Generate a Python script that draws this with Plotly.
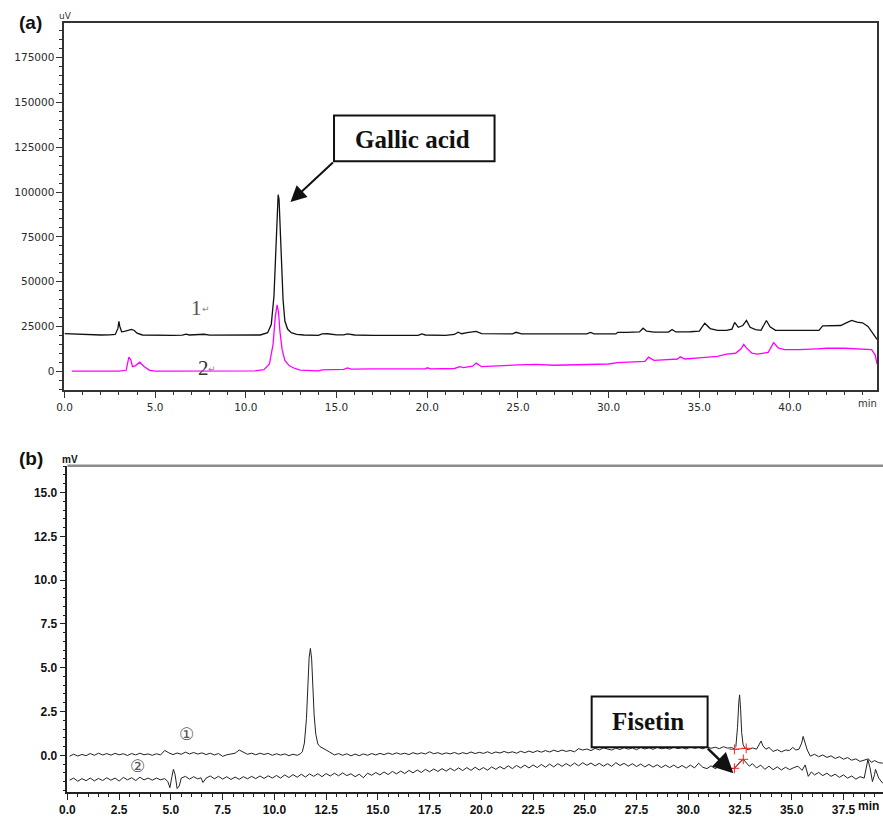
import plotly.graph_objects as go

W, H = 883, 817

# ---------------- Panel (a) data: HPLC, uV ----------------
a1_time = [0.0, 0.5, 1.0, 1.5, 2.0, 2.5, 2.8, 2.95, 3.0, 3.05,
           3.15, 3.3, 3.5, 3.7, 3.85, 4.0, 4.3, 5.0, 6.0, 6.5,
           6.7, 6.9, 7.5, 7.7, 8.0, 9.0, 10.0, 10.8, 11.2, 11.4,
           11.55, 11.65, 11.72, 11.78, 11.83, 11.88, 11.95, 12.05, 12.15, 12.3,
           12.5, 12.8, 13.2, 14.0, 14.2, 14.5, 15.0, 15.4, 15.6, 16.0,
           17.0, 18.0, 19.5, 19.7, 19.9, 21.0, 21.5, 21.7, 21.9, 22.2,
           22.5, 22.7, 23.0, 24.0, 24.7, 24.9, 25.2, 27.0, 28.8, 29.0,
           29.2, 30.4, 30.5, 31.0, 31.7, 31.9, 32.1, 32.5, 33.3, 33.5,
           33.7, 34.5, 35.0, 35.3, 35.6, 36.0, 36.5, 36.8, 36.95, 37.15,
           37.4, 37.6, 37.8, 38.1, 38.4, 38.7, 38.9, 39.2, 39.5, 40.0,
           41.0, 41.6, 41.8, 42.2, 42.5, 42.8, 43.1, 43.4, 43.7, 44.0,
           44.3, 44.6, 44.8]
a1_signal = [21000, 20800, 20300, 20200, 20200, 20300, 20500, 24000, 27800, 25000,
             22000, 22200, 22600, 23300, 22700, 21200, 20200, 20000, 20000, 20100,
             20700, 20200, 20200, 20600, 20100, 20000, 20000, 20200, 21500, 26000,
             42000, 70000, 92000, 98500, 96000, 85000, 62000, 40000, 28000, 23500,
             21500, 20600, 20200, 20000, 20800, 20900, 20300, 20300, 20800, 20200,
             20000, 20000, 20000, 20800, 20200, 20000, 20500, 21800, 20900, 21500,
             21900, 22200, 21000, 20800, 20800, 21700, 20800, 20800, 20800, 21600,
             20800, 20800, 21700, 21700, 21900, 24000, 22300, 21800, 21800, 23300,
             21900, 22000, 22300, 26800, 23800, 22800, 22800, 23500, 27200, 24500,
             25500, 28300, 24500, 23200, 22800, 28300, 24800, 22800, 22800, 22800,
             22800, 22800, 25300, 25300, 25500, 25500, 27000, 28300, 27400, 27000,
             25000, 21000, 17800]

a2_time = [0.4, 1.5, 3.0, 3.4, 3.55, 3.65, 3.75, 3.9, 4.15, 4.4,
           4.7, 5.0, 7.0, 9.0, 10.5, 11.0, 11.3, 11.5, 11.62, 11.72,
           11.8, 11.88, 12.0, 12.15, 12.4, 12.7, 13.0, 14.0, 14.2, 15.4,
           15.6, 15.8, 16.8, 17.0, 19.9, 20.0, 20.2, 21.0, 21.5, 21.8,
           22.0, 22.5, 22.7, 23.0, 23.5, 24.5, 25.0, 26.0, 27.0, 28.0,
           29.0, 30.0, 30.5, 31.5, 32.0, 32.2, 32.5, 33.0, 33.8, 33.95,
           34.2, 35.0, 36.0, 36.5, 37.0, 37.3, 37.45, 37.6, 37.9, 38.2,
           38.8, 39.1, 39.35, 39.7, 40.5, 41.5, 42.0, 43.0, 44.0, 44.5,
           44.7, 44.8]
a2_signal = [0, 0, 0, 500, 7800, 6500, 2500, 3000, 5000, 2500,
             500, 0, 0, 0, 200, 800, 4000, 15000, 30000, 37000,
             33000, 22000, 12000, 6000, 3000, 1500, 600, 200, 700, 1000,
             1800, 1200, 1500, 1300, 1300, 1900, 1300, 1200, 1500, 2500,
             2000, 2800, 4500, 2500, 2600, 3200, 3500, 3800, 3300, 3500,
             4000, 4000, 4800, 5200, 5500, 7800, 6000, 6300, 6800, 8000,
             6800, 7400, 8300, 9500, 10000, 12500, 15000, 13000, 10000, 9500,
             10500, 16000, 13000, 12000, 12000, 12500, 12800, 12800, 12500, 12000,
             9000, 4000]

a_xticks = [0, 5, 10, 15, 20, 25, 30, 35, 40]
a_yticks = [0, 25000, 50000, 75000, 100000, 125000, 150000, 175000]

# ---------------- Panel (b) data: mV ----------------
b1_time = [0.1, 0.3, 0.5, 0.7, 0.9,
           1.1, 1.3, 1.5, 1.7, 1.9,
           2.1, 2.3, 2.5, 2.7, 2.9,
           3.1, 3.3, 3.5, 3.7, 3.9,
           4.1, 4.3, 4.5, 4.7, 4.9,
           5.1, 5.3, 5.5, 5.7, 5.9,
           6.1, 6.3, 6.5, 6.7, 6.9,
           7.1, 7.3, 7.5, 7.7, 7.9,
           8.1, 8.3, 8.5, 8.7, 8.9,
           9.1, 9.3, 9.5, 9.7, 9.9,
           10.1, 10.3, 10.5, 10.7, 10.9,
           11.1, 11.25, 11.35, 11.45, 11.55, 11.62, 11.68, 11.74, 11.8, 11.86, 11.92, 12.0, 12.1,
           12.2, 12.35, 12.5, 12.65, 12.8, 12.9,
           13.1, 13.3, 13.5, 13.7, 13.9,
           14.1, 14.3, 14.5, 14.7, 14.9,
           15.1, 15.3, 15.5, 15.7, 15.9,
           16.1, 16.3, 16.5, 16.7, 16.9,
           17.1, 17.3, 17.5, 17.7, 17.9,
           18.1, 18.3, 18.5, 18.7, 18.9,
           19.1, 19.3, 19.5, 19.7, 19.9,
           20.1, 20.3, 20.5, 20.7, 20.9,
           21.1, 21.3, 21.5, 21.7, 21.9,
           22.1, 22.3, 22.5, 22.7, 22.9,
           23.1, 23.3, 23.5, 23.7, 23.9,
           24.1, 24.3, 24.5, 24.7, 24.9,
           25.1, 25.3, 25.5, 25.7, 25.9,
           26.1, 26.3, 26.5, 26.7, 26.9,
           27.1, 27.3, 27.5, 27.7, 27.9,
           28.1, 28.3, 28.5, 28.7, 28.9,
           29.1, 29.3, 29.5, 29.7, 29.9,
           30.1, 30.3, 30.5, 30.7, 30.9,
           31.1, 31.3, 31.5, 31.7, 31.9,
           32.1, 32.2, 32.3, 32.38, 32.44, 32.48, 32.53, 32.58, 32.65, 32.75, 32.9,
           33.1, 33.3, 33.45, 33.52, 33.6, 33.75, 33.9,
           34.1, 34.3, 34.5, 34.7, 34.9,
           35.05, 35.2, 35.35, 35.48, 35.55, 35.62, 35.75, 35.9,
           36.1, 36.3, 36.5, 36.7, 36.9,
           37.1, 37.3, 37.5, 37.7, 37.9,
           38.1, 38.3, 38.5, 38.7, 38.85,
           39.0, 39.2, 39.4]
b1_signal = [-0.05, 0.06, -0.04, 0.05, -0.02,
             0.1, 0.0, 0.12, 0.02, 0.1,
             0.01, 0.11, 0.03, 0.09, -0.01,
             0.1, 0.02, 0.12, 0.03, 0.08,
             0.0, 0.09, 0.02, 0.28, 0.14,
             0.04, 0.13, 0.06, 0.18, 0.08,
             0.16, 0.07, 0.14, 0.04, 0.12,
             0.02, 0.1, -0.06, 0.03, 0.08,
             0.12, 0.3, 0.18, 0.06, 0.12,
             0.03, 0.12, 0.05, 0.11, 0.0,
             0.09, 0.01, 0.08, -0.02, 0.06,
             0.0, 0.08, 0.2, 0.7, 2.1, 4.0, 5.6, 6.1, 5.5, 3.9, 2.3, 1.2, 0.65,
             0.5, 0.42, 0.3, 0.2, 0.12, 0.02,
             0.1, 0.0, 0.09, -0.03, 0.07,
             -0.02, 0.08, 0.0, 0.1, 0.02,
             0.11, 0.04, 0.13, 0.05, 0.14,
             0.06, 0.12, 0.04, 0.15, 0.07,
             0.14, 0.08, 0.2, 0.09, 0.15,
             0.06, 0.14, 0.08, 0.16, 0.07,
             0.15, 0.09, 0.19, 0.1, 0.17,
             0.11, 0.2, 0.1, 0.19, 0.13,
             0.22, 0.14, 0.2, 0.12, 0.23,
             0.15, 0.24, 0.16, 0.26, 0.18,
             0.27, 0.19, 0.29, 0.21, 0.3,
             0.22, 0.28, 0.2, 0.38, 0.3,
             0.36, 0.27, 0.4, 0.31, 0.42,
             0.34, 0.3, 0.41, 0.33, 0.44,
             0.35, 0.42, 0.32, 0.45, 0.36,
             0.43, 0.34, 0.46, 0.37, 0.42,
             0.35, 0.47, 0.38, 0.44, 0.36,
             0.48, 0.4, 0.45, 0.37, 0.48,
             0.4, 0.46, 0.38, 0.49, 0.41,
             0.44, 0.38, 0.5, 1.6, 3.0, 3.45, 2.6, 1.3, 0.6, 0.4, 0.32,
             0.42, 0.35, 0.7, 0.82, 0.55, 0.35, 0.45,
             0.22, 0.32, 0.2, 0.3, 0.28,
             0.45, 0.3, 0.35, 0.7, 1.08, 0.8, 0.3, -0.05,
             0.06, -0.08, 0.02, -0.12, -0.03,
             -0.18, -0.08, -0.22, -0.13, -0.28,
             -0.2, -0.35, -0.26, -0.2, -0.4,
             -0.3, -0.42, -0.45]

b2_time = [0.1, 0.3, 0.5, 0.7, 0.9,
           1.1, 1.3, 1.5, 1.7, 1.9,
           2.1, 2.3, 2.5, 2.7, 2.9,
           3.1, 3.3, 3.5, 3.7, 3.9,
           4.1, 4.3, 4.5, 4.7, 4.85, 4.95, 5.05, 5.12, 5.2, 5.3, 5.4, 5.5, 5.7, 5.9,
           6.1, 6.3, 6.45, 6.55, 6.7, 6.9,
           7.1, 7.3, 7.5, 7.7, 7.9,
           8.1, 8.3, 8.5, 8.7, 8.9,
           9.1, 9.3, 9.5, 9.7, 9.9,
           10.1, 10.3, 10.5, 10.7, 10.9,
           11.1, 11.3, 11.5, 11.7, 11.9,
           12.1, 12.3, 12.5, 12.7, 12.9,
           13.1, 13.3, 13.5, 13.7, 13.9,
           14.1, 14.3, 14.5, 14.7, 14.9,
           15.1, 15.3, 15.5, 15.7, 15.9,
           16.1, 16.3, 16.5, 16.7, 16.9,
           17.1, 17.3, 17.5, 17.7, 17.9,
           18.1, 18.3, 18.5, 18.7, 18.9,
           19.1, 19.3, 19.5, 19.7, 19.9,
           20.1, 20.3, 20.5, 20.7, 20.9,
           21.1, 21.3, 21.5, 21.7, 21.9,
           22.1, 22.3, 22.5, 22.7, 22.9,
           23.1, 23.3, 23.5, 23.7, 23.9,
           24.1, 24.3, 24.5, 24.7, 24.9,
           25.1, 25.3, 25.5, 25.7, 25.9,
           26.1, 26.3, 26.5, 26.7, 26.9,
           27.1, 27.3, 27.5, 27.7, 27.9,
           28.1, 28.3, 28.5, 28.7, 28.9,
           29.1, 29.3, 29.5, 29.7, 29.9,
           30.1, 30.3, 30.5, 30.7, 30.9,
           31.1, 31.3, 31.5, 31.7, 31.9,
           32.1, 32.23, 32.4, 32.55, 32.66, 32.8, 32.95,
           33.1, 33.3, 33.5, 33.7, 33.9,
           34.1, 34.3, 34.5, 34.7, 34.9,
           35.1, 35.3, 35.5, 35.65, 35.8, 35.95,
           36.1, 36.3, 36.5, 36.7, 36.9,
           37.1, 37.3, 37.5, 37.7, 37.9,
           38.1, 38.3, 38.5, 38.68, 38.78, 38.9,
           39.0, 39.05, 39.2, 39.4]
b2_signal = [-1.42, -1.3, -1.48, -1.33, -1.45,
             -1.3, -1.46, -1.32, -1.44, -1.28,
             -1.42, -1.3, -1.47, -1.26, -1.4,
             -1.28, -1.44, -1.25, -1.4, -1.3,
             -1.42, -1.3, -1.4, -1.33, -1.5, -1.85, -1.2, -0.8, -1.1, -1.9, -1.75, -1.3, -1.2, -1.36,
             -1.22, -1.35, -1.28, -1.55, -1.3, -1.18,
             -1.34, -1.2, -1.36, -1.22, -1.38,
             -1.24, -1.37, -1.22, -1.34, -1.2,
             -1.33, -1.18, -1.32, -1.17, -1.3,
             -1.15, -1.3, -1.12, -1.27, -1.1,
             -1.25, -1.08, -1.24, -1.06, -1.2,
             -1.05, -1.22, -1.04, -1.18, -1.02,
             -1.17, -1.0, -1.16, -1.05, -1.22,
             -1.08, -1.28, -1.02, -1.14, -0.98,
             -1.12, -0.95, -1.1, -0.92, -1.06,
             -0.9, -1.04, -0.86, -1.0, -0.84,
             -0.98, -0.8, -0.94, -0.78, -0.92,
             -0.76, -0.9, -0.74, -0.88, -0.72,
             -0.87, -0.7, -0.86, -0.68, -0.84,
             -0.7, -0.85, -0.66, -0.8, -0.64,
             -0.78, -0.6, -0.76, -0.58, -0.72,
             -0.56, -0.72, -0.55, -0.7, -0.52,
             -0.68, -0.5, -0.66, -0.48, -0.63,
             -0.47, -0.62, -0.44, -0.6, -0.42,
             -0.57, -0.44, -0.6, -0.46, -0.62,
             -0.48, -0.63, -0.42, -0.58, -0.46,
             -0.62, -0.48, -0.64, -0.5, -0.66,
             -0.52, -0.67, -0.54, -0.7, -0.56,
             -0.7, -0.56, -0.72, -0.58, -0.73,
             -0.56, -0.72, -0.45, -0.68, -0.76,
             -0.6, -0.76, -0.63, -0.8, -0.66,
             -0.76, -0.74, -0.5, -0.3, -0.23, -0.45, -0.62,
             -0.48, -0.72, -0.56, -0.8, -0.62,
             -0.82, -0.66, -0.84, -0.68, -0.82,
             -0.7, -0.62, -0.86, -0.55, -1.2, -0.95,
             -1.12, -0.98, -1.16, -1.02, -1.2,
             -1.08, -1.26, -1.12, -1.3, -1.18,
             -1.36, -1.22, -1.3, -0.25, -0.7, -1.5,
             -1.1, -0.8, -1.3, -1.6]

# integration baseline marks (red) around the fisetin peak
mark1_time = [32.23, 32.8]
mark1_signal = [0.34, 0.4]
mark2_time = [32.23, 32.66]
mark2_signal = [-0.74, -0.23]

b_xticks = [0, 2.5, 5, 7.5, 10, 12.5, 15, 17.5, 20, 22.5, 25, 27.5, 30, 32.5, 35, 37.5]
b_yticks = [0, 2.5, 5, 7.5, 10, 12.5, 15]

for _t, _s in [(a1_time, a1_signal), (a2_time, a2_signal), (b1_time, b1_signal), (b2_time, b2_signal)]:
    assert len(_t) == len(_s), (len(_t), len(_s))


def px(x):
    return x / W


def py(y):
    return 1 - y / H


fig = go.Figure()
fig.add_trace(go.Scatter(x=a1_time, y=a1_signal, mode="lines", line=dict(color="#111111", width=1.3),
                         xaxis="x", yaxis="y", showlegend=False))
fig.add_trace(go.Scatter(x=a2_time, y=a2_signal, mode="lines", line=dict(color="#ff00ff", width=1.3),
                         xaxis="x", yaxis="y", showlegend=False))
fig.add_trace(go.Scatter(x=b1_time, y=b1_signal, mode="lines", line=dict(color="#222222", width=1),
                         xaxis="x2", yaxis="y2", showlegend=False))
fig.add_trace(go.Scatter(x=b2_time, y=b2_signal, mode="lines", line=dict(color="#222222", width=1),
                         xaxis="x2", yaxis="y2", showlegend=False))
for mt, ms in [(mark1_time, mark1_signal), (mark2_time, mark2_signal)]:
    fig.add_trace(go.Scatter(x=mt, y=ms, mode="lines+markers",
                             line=dict(color="#ff2020", width=1),
                             marker=dict(symbol="cross-thin", size=7, line=dict(color="#ff2020", width=1)),
                             xaxis="x2", yaxis="y2", showlegend=False))

font_a = dict(family="DejaVu Sans", size=10.5, color="#2a2a2a")
font_b = dict(family="Liberation Sans Narrow, Liberation Sans", size=12, color="#111111", weight="bold")

fig.update_layout(
    width=W, height=H, autosize=False,
    margin=dict(l=0, r=0, t=0, b=0, pad=0),
    paper_bgcolor="white", plot_bgcolor="white",
    xaxis=dict(domain=[px(57), px(877)], range=[0, 44.8], anchor="y",
               tickmode="array", tickvals=a_xticks, ticktext=[f"{v:.1f}" for v in a_xticks],
               ticks="outside", ticklen=6, tickwidth=1, tickcolor="#333",
               minor=dict(dtick=1, tick0=0, ticks="outside", ticklen=3, tickcolor="#333"),
               showgrid=False, zeroline=False, showline=True, linecolor="#333", linewidth=2,
               mirror=True, tickfont=font_a),
    yaxis=dict(domain=[py(392), py(23)], range=[-10556, 194444], anchor="x",
               tickmode="array", tickvals=a_yticks, ticktext=[str(v) for v in a_yticks],
               ticks="outside", ticklen=6, tickwidth=1, tickcolor="#333",
               minor=dict(dtick=5000, tick0=0, ticks="outside", ticklen=3, tickcolor="#333"),
               showgrid=False, zeroline=False, showline=True, linecolor="#333", linewidth=2,
               mirror=True, tickfont=font_a),
    xaxis2=dict(domain=[px(60), 1.0], range=[0, 39.41], anchor="y2",
                tickmode="array", tickvals=b_xticks, ticktext=[f"{v:.1f}" for v in b_xticks],
                ticks="outside", ticklen=6, tickwidth=1, tickcolor="#222",
                minor=dict(dtick=0.5, tick0=0, ticks="outside", ticklen=3, tickcolor="#222"),
                showgrid=False, zeroline=False, showline=True, linecolor="#222", linewidth=1.5,
                tickfont=font_b),
    yaxis2=dict(domain=[py(796), py(468)], range=[-2.1, 16.53], anchor="x2",
                tickmode="array", tickvals=b_yticks, ticktext=[f"{v:.1f}" for v in b_yticks],
                ticks="outside", ticklen=6, tickwidth=1, tickcolor="#222",
                minor=dict(dtick=0.5, tick0=0, ticks="outside", ticklen=3, tickcolor="#222"),
                showgrid=False, zeroline=False, showline=True, linecolor="#222", linewidth=1.5,
                tickfont=font_b),
)

shapes = [
    # top border of panel (b)
    dict(type="line", xref="paper", yref="paper", x0=px(60), x1=1.0, y0=py(468), y1=py(468),
         line=dict(color="#8c8c8c", width=2.5)),
    # label boxes
    dict(type="rect", xref="paper", yref="paper", x0=px(329), x1=px(491), y0=py(162), y1=py(116),
         line=dict(color="#111", width=2), fillcolor="white"),
    dict(type="rect", xref="paper", yref="paper", x0=px(589), x1=px(706), y0=py(751), y1=py(700),
         line=dict(color="#111", width=2), fillcolor="white"),
]
fig.update_layout(shapes=shapes)

serif_bold = dict(family="Liberation Serif, Times New Roman, serif", size=25, color="#111", weight="bold")
ann = [
    dict(text="(a)", x=px(9), y=py(23), xanchor="left", yanchor="middle",
         font=dict(family="Liberation Sans, Arial", size=19, color="#111", weight="bold")),
    dict(text="(b)", x=px(9), y=py(461), xanchor="left", yanchor="middle",
         font=dict(family="Liberation Sans, Arial", size=19, color="#111", weight="bold")),
    dict(text="uV", x=px(58), y=py(16), xanchor="center", yanchor="middle",
         font=dict(family="DejaVu Sans", size=9, color="#333")),
    dict(text="mV", x=px(63), y=py(462), xanchor="center", yanchor="middle",
         font=dict(family="Liberation Sans Narrow, Liberation Sans", size=10, color="#111", weight="bold")),
    dict(text="min", x=px(867), y=py(405), xanchor="center", yanchor="middle",
         font=dict(family="DejaVu Sans", size=10, color="#333")),
    dict(text="min", x=px(881), y=py(810), xanchor="right", yanchor="middle",
         font=font_b),
    dict(text="Gallic acid", x=px(408), y=py(140), xanchor="center", yanchor="middle",
         font=serif_bold),
    dict(text="Fisetin", x=px(646), y=py(725), xanchor="center", yanchor="middle",
         font=serif_bold),
    dict(text="1", x=px(190), y=py(310), xanchor="center", yanchor="middle",
         font=dict(family="Liberation Serif, serif", size=21, color="#5a5046")),
    dict(text="↵", x=px(200), y=py(311), xanchor="center", yanchor="middle",
         font=dict(family="DejaVu Sans", size=9, color="#888")),
    dict(text="2", x=px(197), y=py(370), xanchor="center", yanchor="middle",
         font=dict(family="Liberation Serif, serif", size=21, color="#333")),
    dict(text="↵", x=px(206), y=py(371), xanchor="center", yanchor="middle",
         font=dict(family="DejaVu Sans", size=9, color="#888")),
    dict(text="①", x=px(180), y=py(738), xanchor="center", yanchor="middle",
         font=dict(family="DejaVu Sans, Noto Sans CJK SC", size=17, color="#555")),
    dict(text="②", x=px(131), y=py(770), xanchor="center", yanchor="middle",
         font=dict(family="DejaVu Sans, Noto Sans CJK SC", size=17, color="#555")),
    # arrows
    dict(text="", x=px(285), y=py(203), showarrow=True, arrowhead=2, arrowsize=1.6, arrowwidth=2,
         arrowcolor="#111", ax=44, ay=-41, standoff=0),
    dict(text="", x=px(732), y=py(777), showarrow=True, arrowhead=2, arrowsize=1.6, arrowwidth=2.5,
         arrowcolor="#111", ax=-27, ay=-26, standoff=0),
]
for a in ann:
    a.setdefault("xref", "paper")
    a.setdefault("yref", "paper")
    a.setdefault("showarrow", False)
fig.update_layout(annotations=ann)

fig.write_html("out.html")
